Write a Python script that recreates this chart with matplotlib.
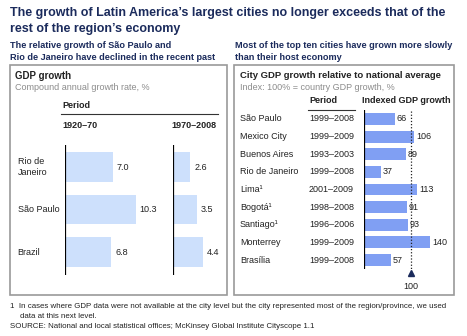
import matplotlib
matplotlib.use("Agg")
import matplotlib.pyplot as plt
from matplotlib.patches import Rectangle

plt.rcParams["font.family"] = ["Liberation Sans", "DejaVu Sans"]

# left panel: compound annual GDP growth, %
places = ["Rio de\nJaneiro", "São Paulo", "Brazil"]
growth_1920_70 = [7.0, 10.3, 6.8]
growth_1970_08 = [2.6, 3.5, 4.4]
periods_left = ["1920–70", "1970–2008"]

# right panel: city GDP growth indexed to the national average
cities = ["São Paulo", "Mexico City", "Buenos Aires", "Rio de Janeiro", "Lima¹",
          "Bogotá¹", "Santiago¹", "Monterrey", "Brasília"]
city_periods = ["1999–2008", "1999–2009", "1993–2003", "1999–2008", "2001–2009",
                "1998–2008", "1996–2006", "1999–2009", "1999–2008"]
indexed = [66, 106, 89, 37, 113, 91, 93, 140, 57]
national = 100

W, H = 467, 336
navy = "#1b2b5c"
grey = "#8c8c8c"
light = "#cde0fc"
mid = "#809ff3"

fig = plt.figure(figsize=(W / 100, H / 100), dpi=100)

def txt(x, y, s, size=6.5, **kw):
    # place text using pixel coordinates from the top-left corner
    kw.setdefault("va", "center")
    kw.setdefault("color", "#222222")
    fig.text(x / W, 1 - y / H, s, fontsize=size, **kw)

def box(x0, y0, x1, y1):
    fig.patches.append(Rectangle((x0 / W, 1 - y1 / H), (x1 - x0) / W, (y1 - y0) / H,
                                 transform=fig.transFigure, fill=False,
                                 edgecolor="#9a9a9a", lw=1.2))

def axes_px(x0, y0, w, h):
    return fig.add_axes([x0 / W, 1 - (y0 + h) / H, w / W, h / H])

# titles
txt(10, 13, "The growth of Latin America’s largest cities no longer exceeds that of the",
    size=9.0, weight="bold", color=navy)
txt(10, 29, "rest of the region’s economy", size=9.0, weight="bold", color=navy)
txt(10, 46, "The relative growth of São Paulo and", size=6.6, weight="bold", color=navy)
txt(10, 57, "Rio de Janeiro have declined in the recent past", size=6.6, weight="bold", color=navy)
txt(235, 46, "Most of the top ten cities have grown more slowly", size=6.6, weight="bold", color=navy)
txt(235, 57, "than their host economy", size=6.6, weight="bold", color=navy)

box(10, 65, 227, 295)
box(234, 65, 454, 295)

# ---- left panel ----
txt(15, 76, "GDP growth", size=7, weight="bold")
txt(15, 87, "Compound annual growth rate, %", size=6.5, color=grey)
txt(62, 106, "Period", size=6.5, weight="bold")
fig.add_artist(plt.Line2D([61 / W, 218 / W], [1 - 114 / H, 1 - 114 / H], color="#333333", lw=0.8))
txt(62, 126, periods_left[0], size=6.5, weight="bold")
txt(171, 126, periods_left[1], size=6.5, weight="bold")

px_unit = 6.9
for x0, vals in [(64.5, growth_1920_70), (172.5, growth_1970_08)]:
    w = 70 if x0 > 100 else 100
    ax = axes_px(x0, 145, w, 130)
    ax.barh(range(len(vals)), vals, height=0.7, color=light)
    ax.set_xlim(0, w / px_unit)
    ax.set_ylim(2.54, -0.52)
    ax.axis("off")
    ax.axvline(0, color="black", lw=1.6)
    for i, v in enumerate(vals):
        ax.text(v + 0.6, i, f"{v:.1f}", va="center", ha="left", fontsize=6.5, color="#222222")
    if x0 < 100:
        for i, p in enumerate(places):
            ax.text(-6.8, i, p, va="center", ha="left", fontsize=6.5, color="#222222",
                    linespacing=1.25)

# ---- right panel ----
txt(240, 76, "City GDP growth relative to national average", size=6.8, weight="bold")
txt(240, 87, "Index: 100% = country GDP growth, %", size=6.5, color=grey)
txt(309, 100, "Period", size=6.5, weight="bold")
fig.add_artist(plt.Line2D([308 / W, 355 / W], [1 - 110 / H, 1 - 110 / H], color="#333333", lw=0.8))
txt(362, 100, "Indexed GDP growth", size=6.5, weight="bold")

scale = 0.476
ax3 = axes_px(363.5, 110, 88, 159)
n = len(cities)
ax3.barh(range(n), indexed, height=0.68, color=mid)
ax3.set_xlim(0, 88 / scale)
ax3.set_ylim(n - 0.49, -0.51)
ax3.axis("off")
ax3.axvline(0, color="black", lw=1.6)
ax3.plot([national, national], [-0.45, n - 0.4], ls=(0, (1, 1.5)), color="#222222", lw=0.9,
         clip_on=False)
ax3.plot([national], [n - 0.26], marker="^", ms=5, color=navy, clip_on=False)
ax3.text(national, n + 0.53, str(national), ha="center", va="center", fontsize=6.5, color="#222222")
for i, (c, p, v) in enumerate(zip(cities, city_periods, indexed)):
    ax3.text(v + 4, i, str(v), va="center", ha="left", fontsize=6.5, color="#222222")
    ax3.text(-(363.5 - 240) / scale, i, c, va="center", ha="left", fontsize=6.5, color="#222222")
    ax3.text(-(363.5 - 309) / scale, i, p, va="center", ha="left", fontsize=6.5, color="#222222")

# footnotes
txt(10, 306, "1  In cases where GDP data were not available at the city level but the city represented most of the region/province, we used",
    size=5.65)
txt(20, 316, "data at this next level.", size=5.65)
txt(10, 326, "SOURCE: National and local statistical offices; McKinsey Global Institute Cityscope 1.1", size=5.65)

fig.savefig("out.png", dpi=100)
